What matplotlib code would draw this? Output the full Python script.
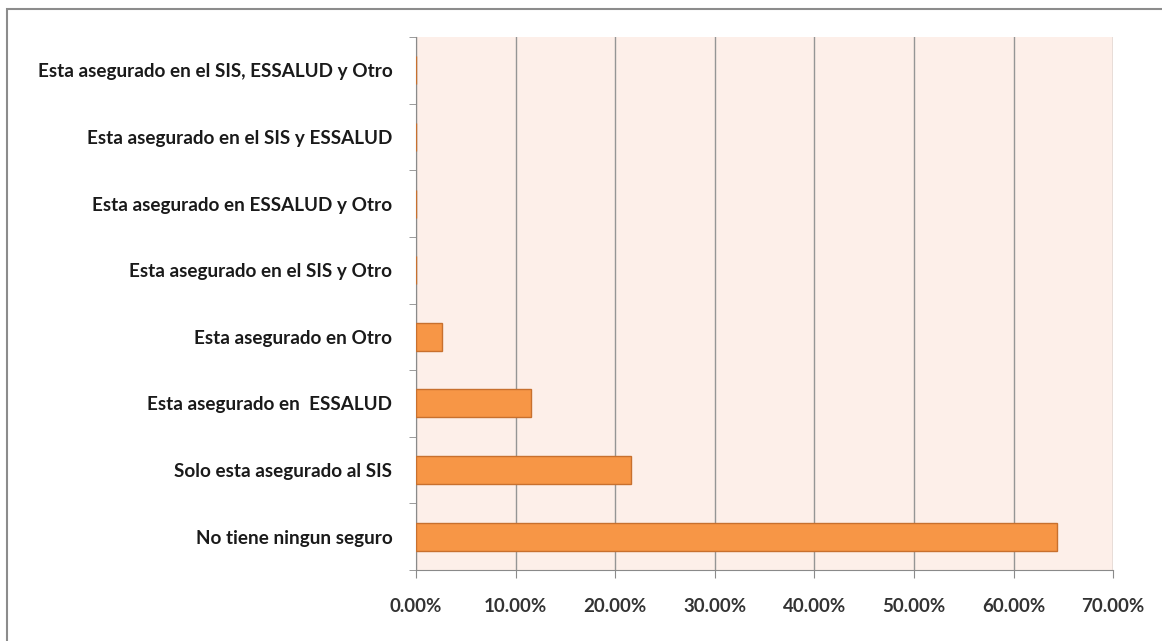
import numpy as np
import matplotlib.pyplot as plt
from matplotlib.patches import Rectangle
from matplotlib.ticker import FuncFormatter

categories = [
    'No tiene ningun seguro',
    'Solo esta asegurado al SIS',
    'Esta asegurado en  ESSALUD',
    'Esta asegurado en Otro',
    'Esta asegurado en el SIS y Otro',
    'Esta asegurado en ESSALUD y Otro',
    'Esta asegurado en el SIS y ESSALUD',
    'Esta asegurado en el SIS, ESSALUD y Otro',
]
values = [64.4, 21.6, 11.5, 2.6, 0.0, 0.0, 0.0, 0.0]
xticks = [0, 10, 20, 30, 40, 50, 60, 70]

plt.rcParams['font.family'] = ['Lato', 'DejaVu Sans']

fig = plt.figure(figsize=(11.62, 6.41), dpi=100)
ax = fig.add_axes([0.358, 0.111, 0.600, 0.831])

# outer chart border (only top and left visible in the original crop)
fig.patches.append(Rectangle((7 / 1162, -0.1), 1.2, 1 - 9 / 641 + 0.1,
                             transform=fig.transFigure, fill=False,
                             edgecolor='#8c8c8c', linewidth=1.5))

ax.set_facecolor('#fdefe9')
y = np.arange(len(categories))
ax.barh(y, values, height=0.42, color='#f79646', edgecolor='#c8702e', linewidth=1, zorder=3)

ax.set_xlim(0, 70)
ax.set_ylim(-0.5, len(categories) - 0.5)
ax.set_xticks(xticks)
ax.xaxis.set_major_formatter(FuncFormatter(lambda v, p: '%.2f%%' % v))
ax.set_yticks(y)
ax.set_yticklabels(categories)
ax.set_yticks(np.arange(-0.5, len(categories), 1), minor=True)

ax.grid(axis='x', color='#959595', linewidth=1, zorder=0)
for s in ['top', 'right']:
    ax.spines[s].set_visible(False)
ax.spines['left'].set_color('#8a8a8a')
ax.spines['bottom'].set_color('#8a8a8a')

ax.tick_params(axis='y', which='major', length=0, pad=17, labelsize=13.6, labelcolor='#1a1a1a')
ax.tick_params(axis='y', which='minor', length=5, color='#8a8a8a')
ax.tick_params(axis='x', length=6, color='#8a8a8a', pad=14, labelsize=13.5, labelcolor='#333333')
for lab in ax.get_yticklabels() + ax.get_xticklabels():
    lab.set_fontweight('bold')

fig.savefig('out.png', dpi=100)
